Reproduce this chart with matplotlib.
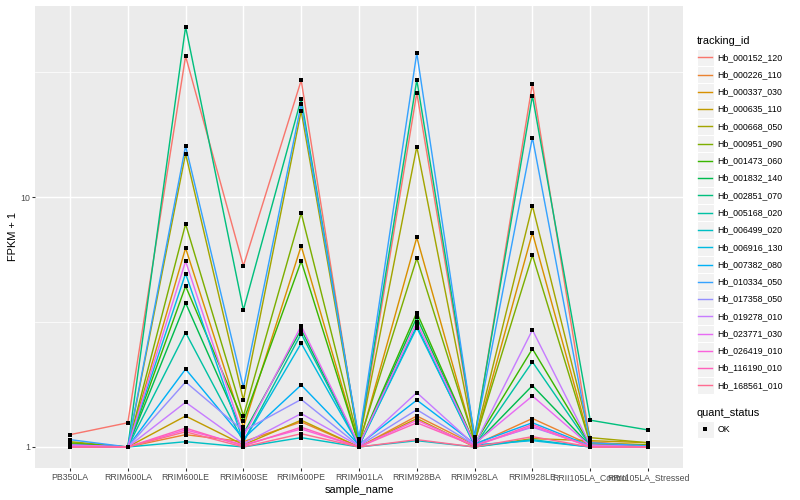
import numpy as np
import matplotlib
matplotlib.use("Agg")
import matplotlib.pyplot as plt
from matplotlib.patches import Rectangle

plt.rcParams['font.family'] = ['Liberation Sans', 'DejaVu Sans']

samples = ["PB350LA", "RRIM600LA", "RRIM600LE", "RRIM600SE", "RRIM600PE",
           "RRIM901LA", "RRIM928BA", "RRIM928LA", "RRIM928LE",
           "RRII105LA_Control", "RRII105LA_Stressed"]

tracking_ids = ["Hb_000152_120", "Hb_000226_110", "Hb_000337_030", "Hb_000635_110",
                "Hb_000668_050", "Hb_000951_090", "Hb_001473_060", "Hb_001832_140",
                "Hb_002851_070", "Hb_005168_020", "Hb_006499_020", "Hb_006916_130",
                "Hb_007382_080", "Hb_010334_050", "Hb_017358_050", "Hb_019278_010",
                "Hb_023771_030", "Hb_026419_010", "Hb_116190_010", "Hb_168561_010"]

colors = ["#F8766D", "#EA8331", "#D89000", "#C09B00", "#A3A500", "#7CAE00",
          "#39B600", "#00BB4E", "#00BF7D", "#00C1A3", "#00BFC4", "#00BAE0",
          "#00B0F6", "#35A2FF", "#9590FF", "#C77CFF", "#E76BF3", "#FA62DB",
          "#FF62BC", "#FF6C91"]

fpkm_plus1 = [
    [1.12, 1.25, 36.6, 5.30, 29.3, 1.03, 26.1, 1.08, 28.4, 1.05, 1.00],
    [1.01, 1.00, 1.12, 1.05, 1.26, 1.00, 1.33, 1.02, 1.30, 1.02, 1.00],
    [1.02, 1.00, 6.25, 1.20, 6.37, 1.02, 6.89, 1.04, 7.19, 1.04, 1.02],
    [1.00, 1.00, 1.33, 1.02, 1.28, 1.00, 1.30, 1.00, 1.08, 1.06, 1.04],
    [1.05, 1.00, 14.9, 1.54, 22.1, 1.05, 15.9, 1.06, 9.23, 1.09, 1.04],
    [1.04, 1.00, 7.80, 1.33, 8.63, 1.04, 5.69, 1.05, 5.85, 1.03, 1.02],
    [1.03, 1.00, 4.40, 1.27, 5.54, 1.02, 3.45, 1.03, 2.47, 1.02, 1.01],
    [1.02, 1.00, 3.77, 1.13, 2.95, 1.01, 3.30, 1.02, 1.76, 1.01, 1.00],
    [1.01, 1.00, 48.0, 3.53, 24.7, 1.06, 29.4, 1.10, 25.4, 1.28, 1.17],
    [1.00, 1.00, 2.87, 1.05, 2.84, 1.01, 3.05, 1.01, 2.19, 1.01, 1.00],
    [1.00, 1.00, 1.05, 1.00, 1.09, 1.00, 1.06, 1.00, 1.07, 1.00, 1.00],
    [1.01, 1.00, 4.94, 1.05, 2.60, 1.01, 3.00, 1.02, 1.06, 1.00, 1.00],
    [1.02, 1.00, 2.05, 1.08, 1.77, 1.02, 1.54, 1.03, 1.25, 1.01, 1.00],
    [1.07, 1.00, 16.0, 1.73, 23.5, 1.08, 37.7, 1.09, 17.3, 1.04, 1.01],
    [1.01, 1.00, 1.82, 1.16, 1.55, 1.01, 1.41, 1.02, 1.20, 1.01, 1.00],
    [1.01, 1.00, 1.51, 1.03, 1.36, 1.01, 1.65, 1.02, 2.94, 1.02, 1.00],
    [1.02, 1.00, 5.54, 1.10, 3.05, 1.02, 3.15, 1.03, 1.60, 1.01, 1.00],
    [1.00, 1.00, 1.17, 1.02, 1.18, 1.00, 1.28, 1.01, 1.21, 1.00, 1.00],
    [1.00, 1.00, 1.19, 1.01, 1.20, 1.00, 1.25, 1.01, 1.23, 1.00, 1.00],
    [1.00, 1.00, 1.15, 1.00, 1.13, 1.00, 1.07, 1.00, 1.10, 1.00, 1.00],
]

W, H = 800, 500
fig = plt.figure(figsize=(8, 5), dpi=100)
px = 0.72  # ggplot pt at 72 dpi -> matplotlib pt at 100 dpi

left, right, top, bottom = 35.3, 682.7, 5.7, 468.0
ax = fig.add_axes([left / W, 1 - bottom / H, (right - left) / W, (bottom - top) / H])
ax.set_facecolor("#EBEBEB")
for s in ax.spines.values():
    s.set_visible(False)

x = np.arange(len(samples))
for i, (tid, col) in enumerate(zip(tracking_ids, colors)):
    ax.plot(x, fpkm_plus1[i], color=col, lw=1.42 * px, zorder=2, solid_capstyle='butt')
for i in range(len(tracking_ids)):
    ax.plot(x, fpkm_plus1[i], ls='none', marker='s', ms=2.7, color='black',
            mec='black', mew=0, zorder=3)

ax.set_yscale('log')
allv = np.log10(np.array(fpkm_plus1))
lo, hi = allv.min(), allv.max()
pad = 0.05 * (hi - lo)
ax.set_ylim(10 ** (lo - pad), 10 ** (hi + pad))
ax.set_xlim(-0.6, len(samples) - 1 + 0.6)

ax.set_yticks([1, 10])
ax.set_yticklabels(["1", "10"])
ax.set_yticks([10 ** 0.5, 10 ** 1.5], minor=True)
ax.yaxis.set_minor_formatter(matplotlib.ticker.NullFormatter())
ax.set_xticks(x)
ax.set_xticklabels(samples)

ax.grid(True, which='major', color='white', lw=1.42 * px, zorder=0)
ax.grid(True, which='minor', axis='y', color='white', lw=0.71 * px, zorder=0)
ax.set_axisbelow(True)
ax.tick_params(axis='both', which='major', length=2.75 * px, width=1.42 * px * 0.75,
               color='#333333', labelsize=8.8 * px, labelcolor='#4D4D4D', pad=2.2 * px)
ax.tick_params(axis='y', which='minor', length=0)

ax.set_xlabel("sample_name", fontsize=11 * px, color='black', labelpad=2.75 * px)
ax.set_ylabel("FPKM + 1", fontsize=11 * px, color='black', labelpad=2.75 * px)

# legend (drawn in pixel coordinates)
lax = fig.add_axes([0, 0, 1, 1])
lax.set_xlim(0, W)
lax.set_ylim(H, 0)
lax.axis('off')

key = 17.27
kx0 = 696.5
lax.text(kx0, 40.5, "tracking_id", fontsize=11 * px, va='center', ha='left')
y0 = 57.3
for i, (tid, col) in enumerate(zip(tracking_ids, colors)):
    yc = y0 + key * i
    lax.add_patch(Rectangle((kx0, yc - key / 2), key, key, facecolor='#F2F2F2',
                            edgecolor='white', lw=0.8))
    lax.plot([kx0 + 1.7, kx0 + key - 1.7], [yc, yc], color=col, lw=1.42 * px)
    lax.text(kx0 + key + 3.5, yc, tid, fontsize=8.8 * px, va='center', ha='left')

lax.text(kx0, 412.5, "quant_status", fontsize=11 * px, va='center', ha='left')
yc = 429.3
lax.add_patch(Rectangle((kx0, yc - key / 2), key, key, facecolor='#F2F2F2',
                        edgecolor='white', lw=0.8))
lax.plot([kx0 + key / 2], [yc], marker='s', ms=2.7, color='black', mew=0)
lax.text(kx0 + key + 3.5, yc, "OK", fontsize=8.8 * px, va='center', ha='left')

fig.savefig("out.png", dpi=100)
